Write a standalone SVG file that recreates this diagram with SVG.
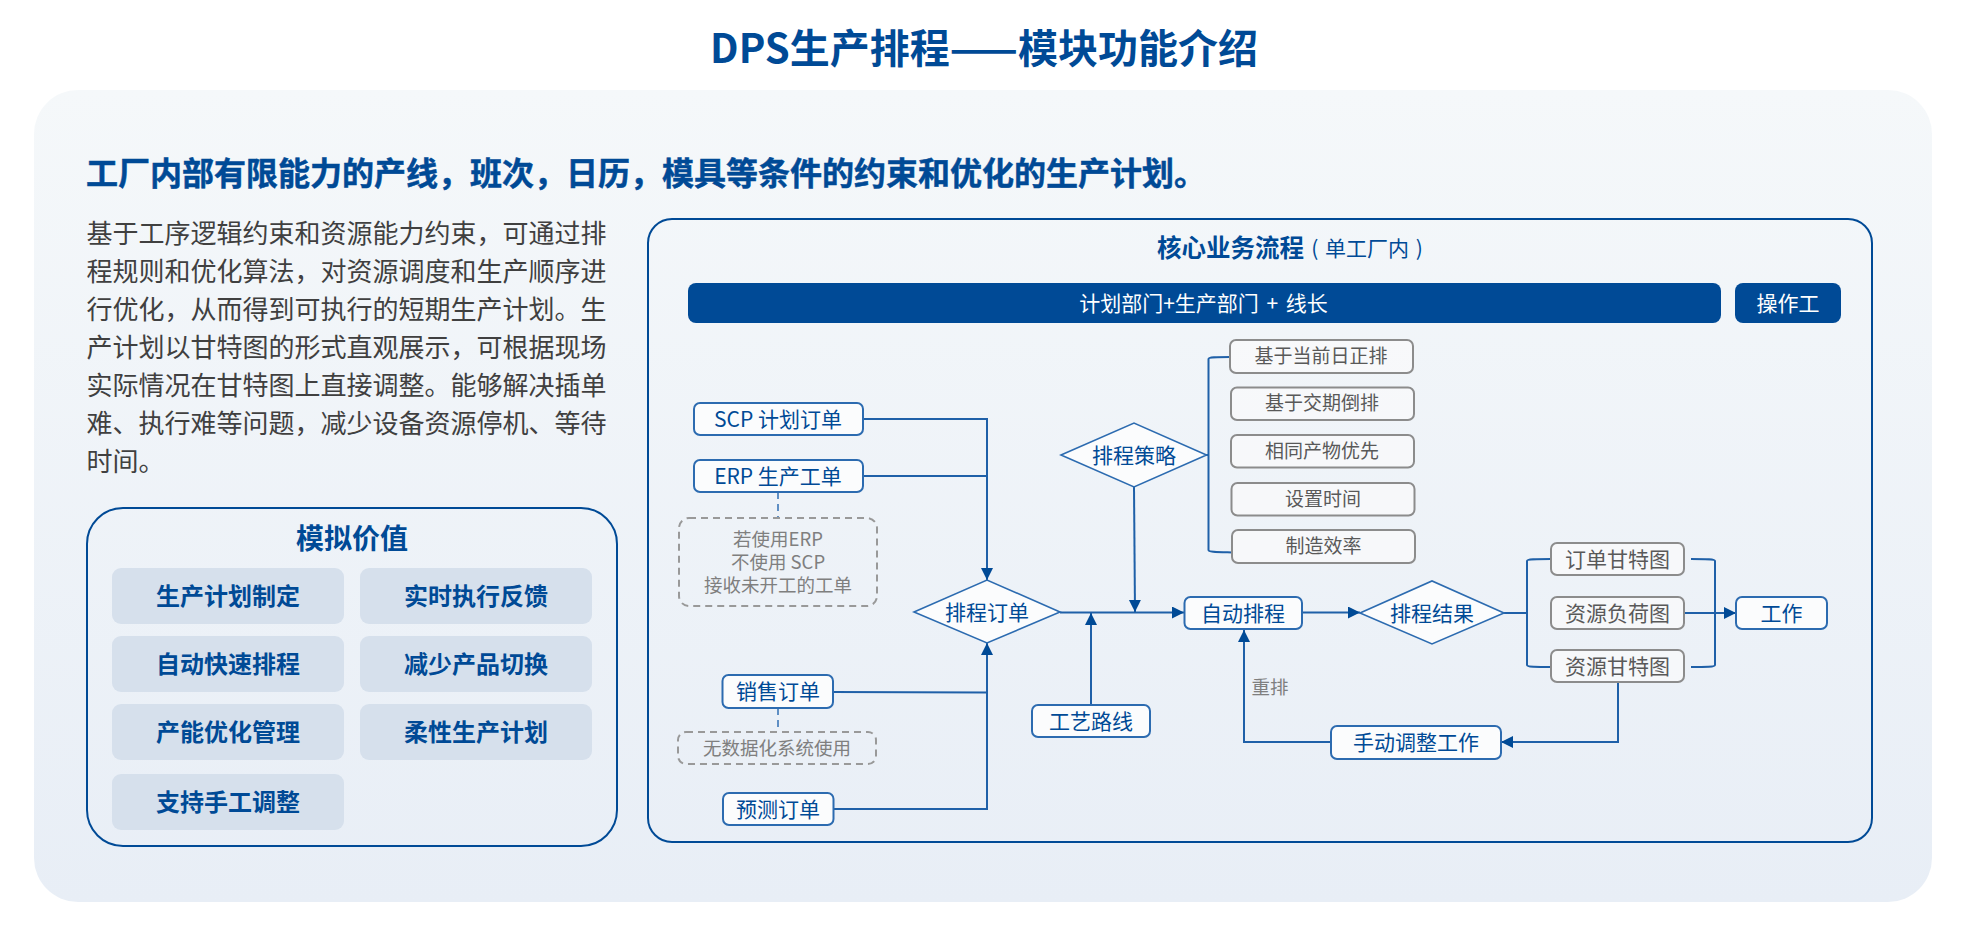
<svg xmlns="http://www.w3.org/2000/svg" width="1966" height="934" viewBox="0 0 1966 934">
<defs>
<linearGradient id="bg" x1="0" y1="0" x2="0" y2="1"><stop offset="0" stop-color="#f5f8fa"/><stop offset="1" stop-color="#e8eef6"/></linearGradient>
<marker id="arrow" markerUnits="userSpaceOnUse" markerWidth="14" markerHeight="14" refX="12" refY="6" orient="auto"><path d="M0,0 L12,6 L0,12 Z" fill="#004a96"/></marker>
</defs>
<style>
text{font-family:"Noto Sans CJK SC","Noto Sans",sans-serif;text-anchor:middle}
.h{fill:#004a96;font-weight:700}
.body{fill:#404040;font-size:26px;text-anchor:start}
.chip rect{fill:#d6e0ec}
.chip text{fill:#004a96;font-size:24px;font-weight:700}
.bar{fill:#004a96}
.bar-t{fill:#fff;font-size:21px}
.n rect,.n polygon{fill:#fbfcfd;stroke:#2c6bb0;stroke-width:2}
.n polygon{stroke-width:1.6}
.n text{fill:#004a96;font-size:21px}
.g rect{fill:#f9fafb;fill-opacity:.75;stroke:#8c8c8c;stroke-width:2}
.g text{fill:#595959;font-size:19px}
.d rect{fill:none;stroke:#999;stroke-width:2;stroke-dasharray:7 5}
.d text{fill:#7f7f7f;font-size:18.5px}
.c path{fill:none;stroke:#1f60a8;stroke-width:2}
.c .a{marker-end:url(#arrow)}
.c .dash{stroke:#5f8fc4;stroke-dasharray:7 5}
</style>
<rect id="panel" x="34" y="90" width="1898" height="812" rx="44" fill="url(#bg)"/>
<text class="h" x="984" y="63" font-size="40">DPS生产排程——模块功能介绍</text>
<text class="h" x="86" y="185" font-size="32" stroke="#004a96" stroke-width=".5" style="text-anchor:start">工厂内部有限能力的产线，班次，日历，模具等条件的约束和优化的生产计划。</text>
<g id="intro">
<text class="body" x="86.5" y="243">基于工序逻辑约束和资源能力约束，可通过排</text>
<text class="body" x="86.5" y="281">程规则和优化算法，对资源调度和生产顺序进</text>
<text class="body" x="86.5" y="319">行优化，从而得到可执行的短期生产计划。生</text>
<text class="body" x="86.5" y="357">产计划以甘特图的形式直观展示，可根据现场</text>
<text class="body" x="86.5" y="395">实际情况在甘特图上直接调整。能够解决插单</text>
<text class="body" x="86.5" y="433">难、执行难等问题，减少设备资源停机、等待</text>
<text class="body" x="86.5" y="471">时间。</text>
</g>
<g id="value">
<rect x="87" y="508" width="530" height="338" rx="36" fill="none" stroke="#004a96" stroke-width="2"/>
<text class="h" x="352" y="549" font-size="28">模拟价值</text>
<g class="chip" id="v1"><rect x="112" y="568" width="232" height="56" rx="9"/><text x="228" y="605">生产计划制定</text></g>
<g class="chip" id="v2"><rect x="360" y="568" width="232" height="56" rx="9"/><text x="476" y="605">实时执行反馈</text></g>
<g class="chip" id="v3"><rect x="112" y="636" width="232" height="56" rx="9"/><text x="228" y="673">自动快速排程</text></g>
<g class="chip" id="v4"><rect x="360" y="636" width="232" height="56" rx="9"/><text x="476" y="673">减少产品切换</text></g>
<g class="chip" id="v5"><rect x="112" y="704" width="232" height="56" rx="9"/><text x="228" y="741">产能优化管理</text></g>
<g class="chip" id="v6"><rect x="360" y="704" width="232" height="56" rx="9"/><text x="476" y="741">柔性生产计划</text></g>
<g class="chip" id="v7"><rect x="112" y="774" width="232" height="56" rx="9"/><text x="228" y="811">支持手工调整</text></g>
</g>
<rect id="flow-frame" x="648" y="219" width="1224" height="623" rx="24" fill="none" stroke="#004a96" stroke-width="2"/>
<text class="h" x="1230.5" y="257" font-size="24.5">核心业务流程</text>
<text x="1367" y="256" font-size="21" word-spacing="2" fill="#004a96">( 单工厂内 )</text>
<g id="bar1"><rect class="bar" x="688" y="283" width="1033" height="40" rx="8"/><text class="bar-t" x="1203.5" y="311" word-spacing="3">计划部门+生产部门 + 线长</text></g>
<g id="bar2"><rect class="bar" x="1735" y="283" width="106" height="40" rx="8"/><text class="bar-t" x="1788" y="311">操作工</text></g>
<g id="connectors" class="c">
<path class="a" d="M863,419 H987 V580"/>
<path d="M863,476 H987"/>
<path d="M833,692 L987,692.5"/>
<path class="a" d="M834,809 H987 V643"/>
<path class="dash" d="M778,492 V518"/>
<path class="dash" d="M778,708 V732"/>
<path class="a" d="M1060,612.5 H1184"/>
<path class="a" d="M1134,487 L1135,612"/>
<path class="a" d="M1091,705 V613"/>
<path d="M1206,455 H1208.5"/>
<path d="M1230,357 C1216,357 1208.5,357 1208.5,359 V550 C1208.5,552 1216,552 1232,552.5"/>
<path class="a" d="M1303,612.5 H1360"/>
<path d="M1504,613 H1527"/>
<path d="M1551,559 C1535,559 1527,559 1527,561 V665 C1527,667 1535,667 1551,667"/>
<path d="M1691,559 C1707,559 1715,559 1715,561 V665 C1715,667 1707,667 1691,667"/>
<path class="a" d="M1685,613 H1736"/>
<path class="a" d="M1618,682 V742 H1501"/>
<path class="a" d="M1331,742 H1244 V630"/>
</g>
<g id="scp" class="n"><rect x="694" y="403" width="169" height="32" rx="6"/><text x="778" y="427">SCP 计划订单</text></g>
<g id="erp" class="n"><rect x="694" y="460" width="169" height="32" rx="6"/><text x="778" y="484">ERP 生产工单</text></g>
<g id="note1" class="d"><rect x="679" y="518" width="198" height="88" rx="10"/><text x="778" y="546">若使用ERP</text><text x="778" y="569">不使用 SCP</text><text x="778" y="592">接收未开工的工单</text></g>
<g id="note2" class="d"><rect x="678" y="732" width="198" height="32" rx="8"/><text x="777" y="755">无数据化系统使用</text></g>
<g id="sales" class="n"><rect x="722.5" y="675" width="110.5" height="33" rx="6"/><text x="778" y="699">销售订单</text></g>
<g id="forecast" class="n"><rect x="723" y="793" width="110.5" height="32" rx="6"/><text x="778" y="817">预测订单</text></g>
<g id="order-d" class="n"><polygon points="914,612 987,580 1060,612 987,643"/><text x="987" y="620">排程订单</text></g>
<g id="strategy-d" class="n"><polygon points="1061,455 1134,423 1206.5,455 1134,487"/><text x="1134" y="463">排程策略</text></g>
<g id="route" class="n"><rect x="1032" y="705" width="118" height="32" rx="6"/><text x="1091" y="729">工艺路线</text></g>
<g id="auto" class="n"><rect x="1184.5" y="597" width="117.5" height="32" rx="6"/><text x="1243" y="621">自动排程</text></g>
<g id="result-d" class="n"><polygon points="1360,613 1432,581 1504,613 1432,644"/><text x="1432" y="621">排程结果</text></g>
<g id="s1" class="g"><rect x="1230" y="340" width="183" height="33" rx="6"/><text x="1321" y="363">基于当前日正排</text></g>
<g id="s2" class="g"><rect x="1231" y="387.5" width="183" height="32.5" rx="6"/><text x="1322" y="410">基于交期倒排</text></g>
<g id="s3" class="g"><rect x="1231" y="435" width="183" height="32.5" rx="6"/><text x="1322" y="458">相同产物优先</text></g>
<g id="s4" class="g"><rect x="1231.5" y="483" width="183" height="32.5" rx="6"/><text x="1323" y="506">设置时间</text></g>
<g id="s5" class="g"><rect x="1232" y="530" width="183" height="33" rx="6"/><text x="1323.5" y="553">制造效率</text></g>
<g id="g1" class="g"><rect x="1551" y="543" width="133" height="32" rx="6"/><text style="font-size:21px" x="1617.5" y="567">订单甘特图</text></g>
<g id="g2" class="g"><rect x="1551" y="597" width="133" height="32" rx="6"/><text style="font-size:21px" x="1617.5" y="621">资源负荷图</text></g>
<g id="g3" class="g"><rect x="1551" y="650" width="133" height="32" rx="6"/><text style="font-size:21px" x="1617.5" y="674">资源甘特图</text></g>
<g id="work" class="n"><rect x="1736" y="597" width="91" height="32" rx="6"/><text x="1781.5" y="621">工作</text></g>
<g id="manual" class="n"><rect x="1331" y="726" width="170" height="33" rx="6"/><text x="1416" y="750">手动调整工作</text></g>
<text x="1270" y="694" font-size="18.5" fill="#7f7f7f">重排</text>
</svg>
